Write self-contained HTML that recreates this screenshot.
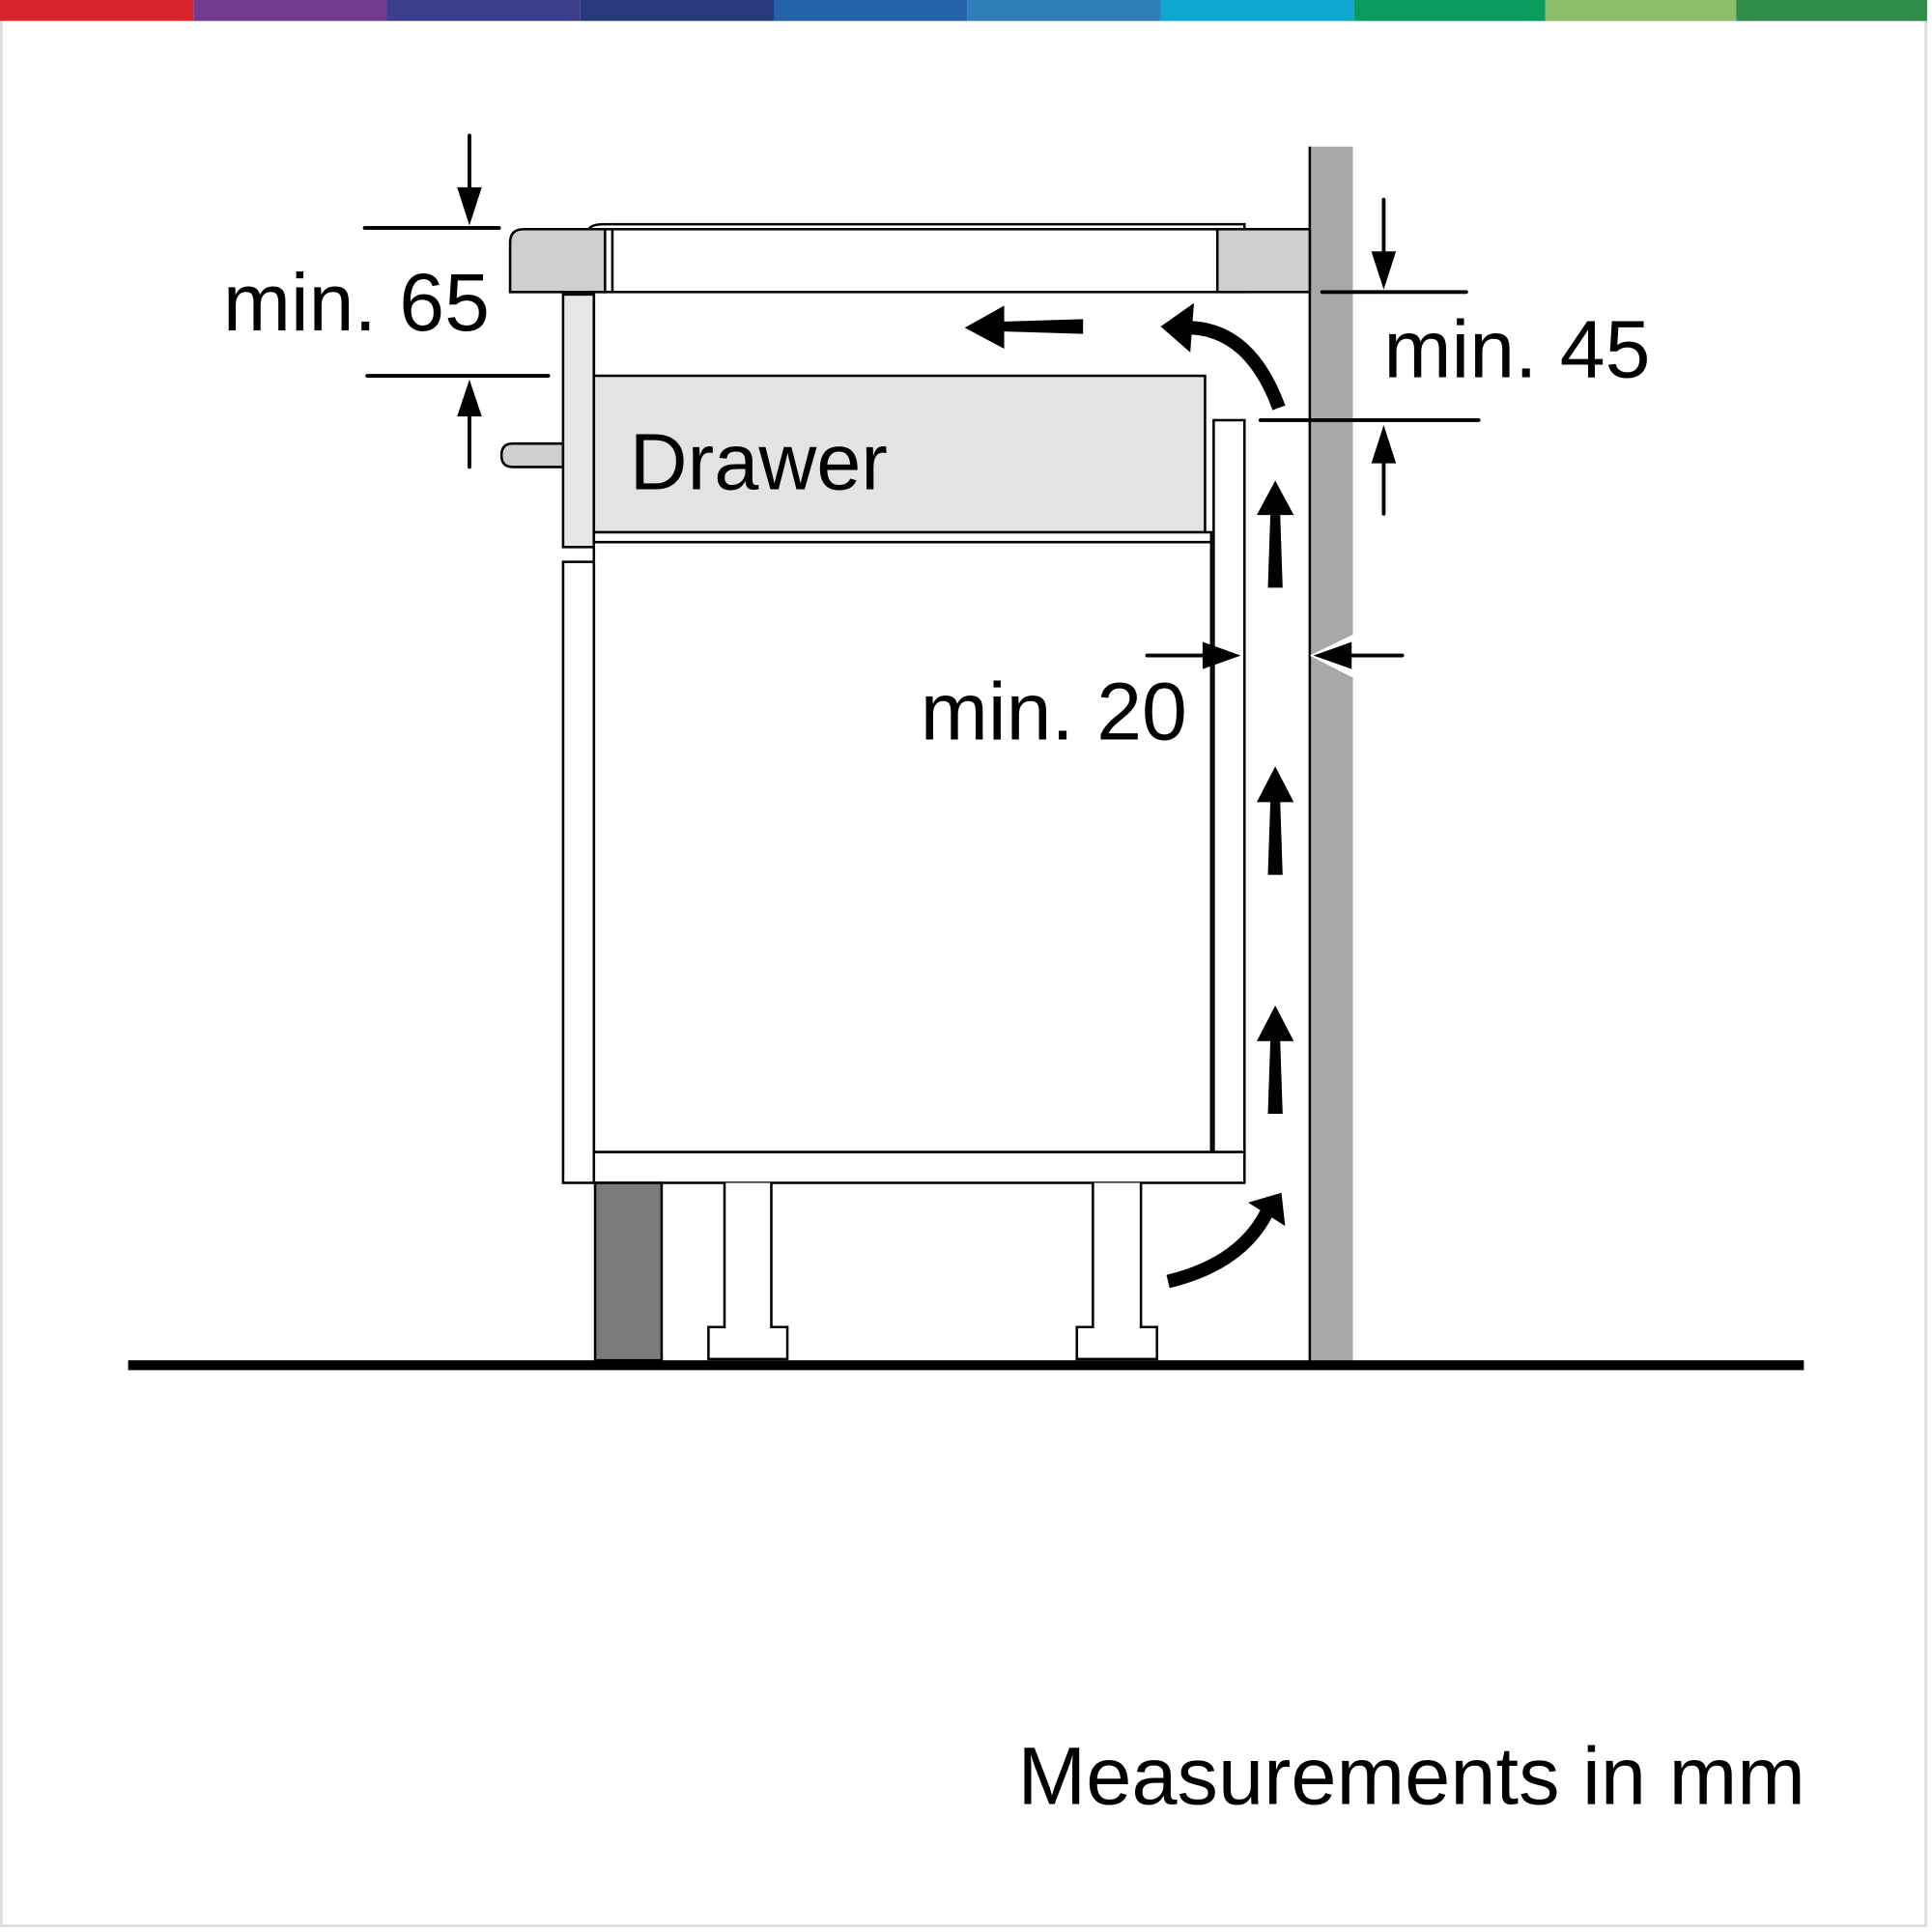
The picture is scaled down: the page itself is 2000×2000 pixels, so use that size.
<!DOCTYPE html>
<html><head><meta charset="utf-8"><style>
html,body{margin:0;padding:0;background:#fff;}
svg{display:block;}
text{font-family:"Liberation Sans",Arial,sans-serif;fill:#000;}
</style></head><body>
<svg width="2000" height="2000" viewBox="0 0 1568 1568" xmlns="http://www.w3.org/2000/svg">
<rect x="0" y="0" width="1568" height="1568" fill="#fff"/>
<rect x="1" y="1" width="1562" height="1562" fill="none" stroke="#ddd" stroke-width="2"/>
<g>
<rect x="0" y="0" width="157" height="17" fill="#d9232a"/>
<rect x="157" y="0" width="157" height="17" fill="#733b8e"/>
<rect x="314" y="0" width="157" height="17" fill="#3b3f8b"/>
<rect x="471" y="0" width="157" height="17" fill="#293a7c"/>
<rect x="628" y="0" width="157" height="17" fill="#2362a6"/>
<rect x="785" y="0" width="157" height="17" fill="#2f7db6"/>
<rect x="942" y="0" width="157" height="17" fill="#0ca6cf"/>
<rect x="1099" y="0" width="155" height="17" fill="#0c9b5e"/>
<rect x="1254" y="0" width="155" height="17" fill="#8bbd6a"/>
<rect x="1409" y="0" width="155" height="17" fill="#2f8d48"/>
</g>
<g stroke="#000" stroke-width="2">
<rect x="1063" y="119" width="35" height="986" fill="#a8a8a8" stroke="none"/>
<line x1="1063" y1="119" x2="1063" y2="1105"/>
<polygon points="1063,532 1098,515 1098,550" fill="#fff" stroke="none"/>
<!-- hob -->
<path d="M478,186 Q480,182 490,182 H1010 V186" fill="none"/>
<rect x="491" y="186" width="519" height="51" fill="#fff"/>
<line x1="497" y1="186" x2="497" y2="237"/>
<path d="M425,186 H491 V237 H414 V197 Q414,186 425,186 Z" fill="#cfcfcf"/>
<rect x="988" y="186" width="75" height="51" fill="#cfcfcf"/>
<!-- handle & front -->
<path d="M416,360 H457 V379 H416 Q407,379 407,369.5 Q407,360 416,360 Z" fill="#cfcfcf"/>
<rect x="457" y="239" width="25" height="205" fill="#e6e6e6"/>
<rect x="482" y="305" width="496" height="127" fill="#e3e3e3"/>
<rect x="482" y="432" width="501" height="8" fill="#fff"/>
<rect x="482" y="440" width="501" height="495" fill="#fff"/>
<rect x="457" y="456" width="25" height="504" fill="#fff"/>
<rect x="985" y="341" width="25" height="594" fill="#fff"/>
<rect x="482" y="935" width="528" height="25" fill="#fff"/>
<line x1="482" y1="237" x2="482" y2="305"/>
<rect x="483" y="960" width="54" height="144" fill="#7a7a7a"/>
<path d="M588,960 V1077 H575 V1103 H639 V1077 H626 V960" fill="#fff"/>
<path d="M887,960 V1077 H874 V1103 H939 V1077 H926 V960" fill="#fff"/>
</g>
<rect x="104" y="1104" width="1360" height="8" fill="#000"/>
<g fill="#000">
<polygon points="1035,390 1020,418 1031,418 1029,477 1041,477 1039,418 1050,418"/>
<polygon points="1035,622 1020,651 1031,651 1029,710 1041,710 1039,651 1050,651"/>
<polygon points="1035,816 1020,845 1031,845 1029,904 1041,904 1039,845 1050,845"/>
<polygon points="783,266 815,248 815,261 879,259 879,271 815,269 815,283"/>
<polygon points="942,265 969,246 966,286"/>
<polygon points="1040,968 1043,995 1013,976"/>
</g>
<path d="M966,266 Q1015,268 1038,331" fill="none" stroke="#000" stroke-width="11"/>
<path d="M948,1040 Q1010,1025 1030,980" fill="none" stroke="#000" stroke-width="11"/>
<g stroke="#000" stroke-width="3" stroke-linecap="round">
<line x1="296" y1="185" x2="405" y2="185"/>
<line x1="298" y1="305" x2="445" y2="305"/>
<line x1="381" y1="110" x2="381" y2="160"/>
<line x1="381" y1="330" x2="381" y2="379"/>
<line x1="1073" y1="237" x2="1190" y2="237"/>
<line x1="1023" y1="341" x2="1200" y2="341"/>
<line x1="1123" y1="162" x2="1123" y2="210"/>
<line x1="1123" y1="370" x2="1123" y2="417"/>
<line x1="931" y1="532" x2="985" y2="532"/>
<line x1="1090" y1="532" x2="1138" y2="532"/>
</g>
<g fill="#000">
<polygon points="381,183 371,152 391,152"/>
<polygon points="381,308 371,338 391,338"/>
<polygon points="1123,235 1113,204 1133,204"/>
<polygon points="1123,345 1113,376 1133,376"/>
<polygon points="1007,532 976,521 976,543"/>
<polygon points="1066,532 1097,521 1097,543"/>
</g>
<text x="511" y="397" font-size="65">Drawer</text>
<text x="181" y="268" font-size="66">min. 65</text>
<text x="1123" y="306" font-size="66">min. 45</text>
<text x="747" y="600" font-size="66">min. 20</text>
<text x="826" y="1464" font-size="66.5">Measurements in mm</text>
</svg>
</body></html>
